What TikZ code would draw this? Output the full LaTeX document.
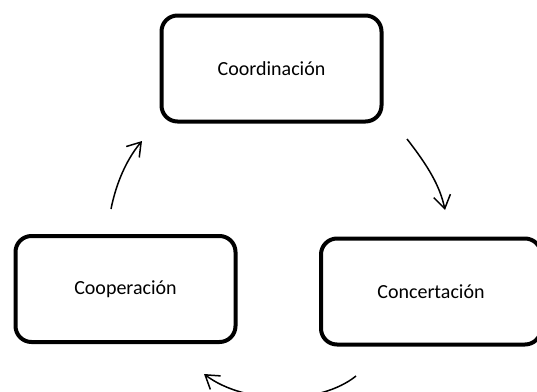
\documentclass[tikz,border=0pt]{standalone}
\usepackage{fontspec}
\setmainfont{Carlito}
\usetikzlibrary{arrows.meta}
\begin{document}
\begin{tikzpicture}[x=1pt,y=-1pt,
  box/.style={draw=black,line width=4pt,rounded corners=16pt,minimum width=220pt,minimum height=106pt,inner sep=0pt,font=\fontsize{20}{24}\selectfont},
  flow/.style={draw=black,line width=1.5pt,-{Straight Barb[length=13pt,width=17pt,line width=1.5pt]}}]
\useasboundingbox (0,0) rectangle (537,391);
\clip (0,0) rectangle (537,391);
\fill[white] (0,0) rectangle (537,391);
\node[box] (coord) at (271.5,68.5) {Coordinación};
\node[box] (coop) at (125.5,289) {Cooperación};
\node[box] (conc) at (431,291.5) {Concertación};
\coordinate (a1s) at (407,139);
\coordinate (a1e) at (445,210);
\coordinate (a2s) at (356,376);
\coordinate (a2e) at (204,374);
\coordinate (a3s) at (111,209);
\coordinate (a3e) at (142,141);
\draw[flow] (a1s) .. controls (428,166) and (440,186) .. (a1e);
\draw[flow] (a2s) .. controls (320,405) and (245,405) .. (a2e);
\draw[flow] (a3s) .. controls (116,184) and (126,160) .. (a3e);
\end{tikzpicture}
\end{document}
